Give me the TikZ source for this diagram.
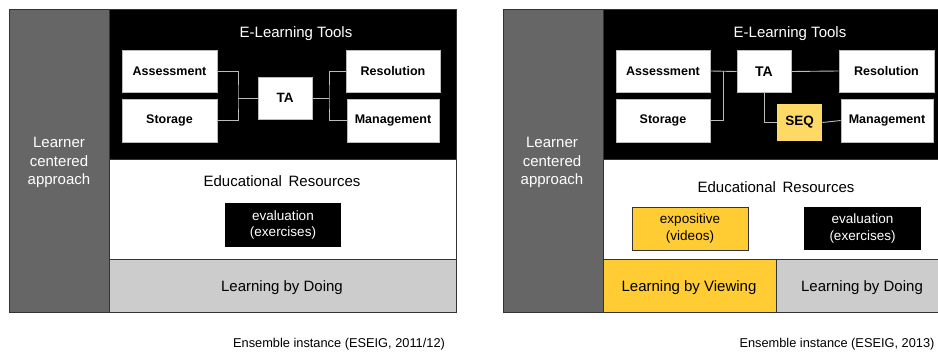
\documentclass[tikz,border=0pt]{standalone}
\usepackage{fontspec}
\setmainfont{Liberation Sans}
\definecolor{bargray}{HTML}{666666}
\definecolor{edge}{HTML}{333333}
\definecolor{lgray}{HTML}{CCCCCC}
\definecolor{gold}{HTML}{FFCC33}
\definecolor{seqy}{HTML}{FFD966}
\definecolor{conn}{HTML}{BBBBBB}
\begin{document}
\begin{tikzpicture}[x=1pt,y=-1pt,
  region/.style={draw=edge,line width=0.9pt},
  tool/.style={draw=conn,fill=white,line width=0.6pt,inner sep=0pt,font=\fontsize{12.5}{14}\selectfont\bfseries},
  link/.style={draw=conn,line width=0.9pt},
  head/.style={font=\fontsize{15}{18}\selectfont,yshift=-1.5pt},
  lca/.style={font=\fontsize{15}{18.5}\selectfont,text=white,align=center,yshift=-1.5pt},
  res/.style={inner sep=0pt,align=center,font=\fontsize{13.5}{16.5}\selectfont},
  captext/.style={font=\fontsize{12.8}{15}\selectfont,yshift=-1pt}]
\useasboundingbox (0,0) rectangle (938,352);
\fill[white] (0,0) rectangle (938,352);
% ================= LEFT PANEL =================
\path[region,fill=bargray] (9,9) rectangle (109,312);
\path[region,fill=black] (109,9) rectangle (456,159);
\path[region,fill=white] (109,159) rectangle (456,259);
\path[region,fill=lgray] (109,259) rectangle (456,312);
\node[lca] (lcaL) at (59,161) {Learner\\centered\\approach};
\node[head,text=white] (eltL) at (296,32) {E-Learning Tools};
\node[tool,minimum width=95,minimum height=42] (asL) at (169.5,71) {Assessment};
\node[tool,minimum width=95,minimum height=43] (stL) at (169.5,120.5) {Storage};
\node[tool,minimum width=54,minimum height=42,font=\fontsize{13.5}{15}\selectfont\bfseries] (taL) at (285,98) {TA};
\node[tool,minimum width=94,minimum height=42] (reL) at (393,71) {Resolution};
\node[tool,minimum width=92,minimum height=43] (maL) at (393,120.5) {Management};
\coordinate (jlL) at (238,98);
\coordinate (jrL) at (329,98);
\draw[link] (asL.east) -| (jlL) |- (stL.east);
\draw[link] (jlL) -- (taL.west);
\draw[link] (reL.west) -| (jrL) |- (maL.west);
\draw[link] (taL.east) -- (jrL);
\node[head] (erL) at (282,180) {Educational \hspace{2.5pt}Resources};
\node[res,fill=black,text=white,minimum width=116,minimum height=44] (evL) at (283,225) {evaluation\\(exercises)};
\node[head] (lbdL) at (282,286) {Learning by Doing};
\node[captext] (capL) at (339,343) {Ensemble instance (ESEIG, 2011/12)};
% ================= RIGHT PANEL =================
\path[region,fill=bargray] (503,9) rectangle (603,312);
\path[region,fill=black] (603,9) rectangle (946,159);
\path[region,fill=white] (603,159) rectangle (946,259);
\path[region,fill=gold] (603,259) rectangle (776,312);
\path[region,fill=lgray] (776,259) rectangle (946,312);
\node[lca] (lcaR) at (552,161) {Learner\\centered\\approach};
\node[head,text=white] (eltR) at (790,32) {E-Learning Tools};
\node[tool,minimum width=94,minimum height=42] (asR) at (663,71) {Assessment};
\node[tool,minimum width=94,minimum height=43] (stR) at (663,120.5) {Storage};
\node[tool,minimum width=54,minimum height=42,font=\fontsize{14}{16}\selectfont\bfseries] (taR) at (764,71.5) {TA};
\node[tool,minimum width=95,minimum height=42] (reR) at (886.5,71) {Resolution};
\node[tool,minimum width=92,minimum height=43] (maR) at (887,120.5) {Management};
\node[tool,draw=none,fill=seqy,minimum width=45,minimum height=37,font=\fontsize{13.5}{15}\selectfont\bfseries] (seqR) at (799.5,122.5) {SEQ};
\coordinate (jlR) at (723,71);
\draw[link] (asR.east) -- (taR.west);
\draw[link] (jlR) |- (stR.east);
\draw[link] (taR.east) -- (reR.west);
\draw[link] (taR.south) |- (seqR.west);
\draw[link] (seqR.east) -- (maR.west);
\node[head] (erR) at (776,186) {Educational \hspace{2.5pt}Resources};
\node[res,draw=edge,line width=0.9pt,fill=gold,minimum width=116,minimum height=43] (exR) at (690,228.5) {expositive\\(videos)};
\node[res,fill=black,text=white,minimum width=117,minimum height=43] (evR) at (862.5,228.5) {evaluation\\(exercises)};
\node[head] (lbvR) at (689,286) {Learning by Viewing};
\node[head] (lbdR) at (862,286) {Learning by Doing};
\node[captext,anchor=east] (capR) at (938,343) {Ensemble instance (ESEIG, 2013)};
\end{tikzpicture}
\end{document}
